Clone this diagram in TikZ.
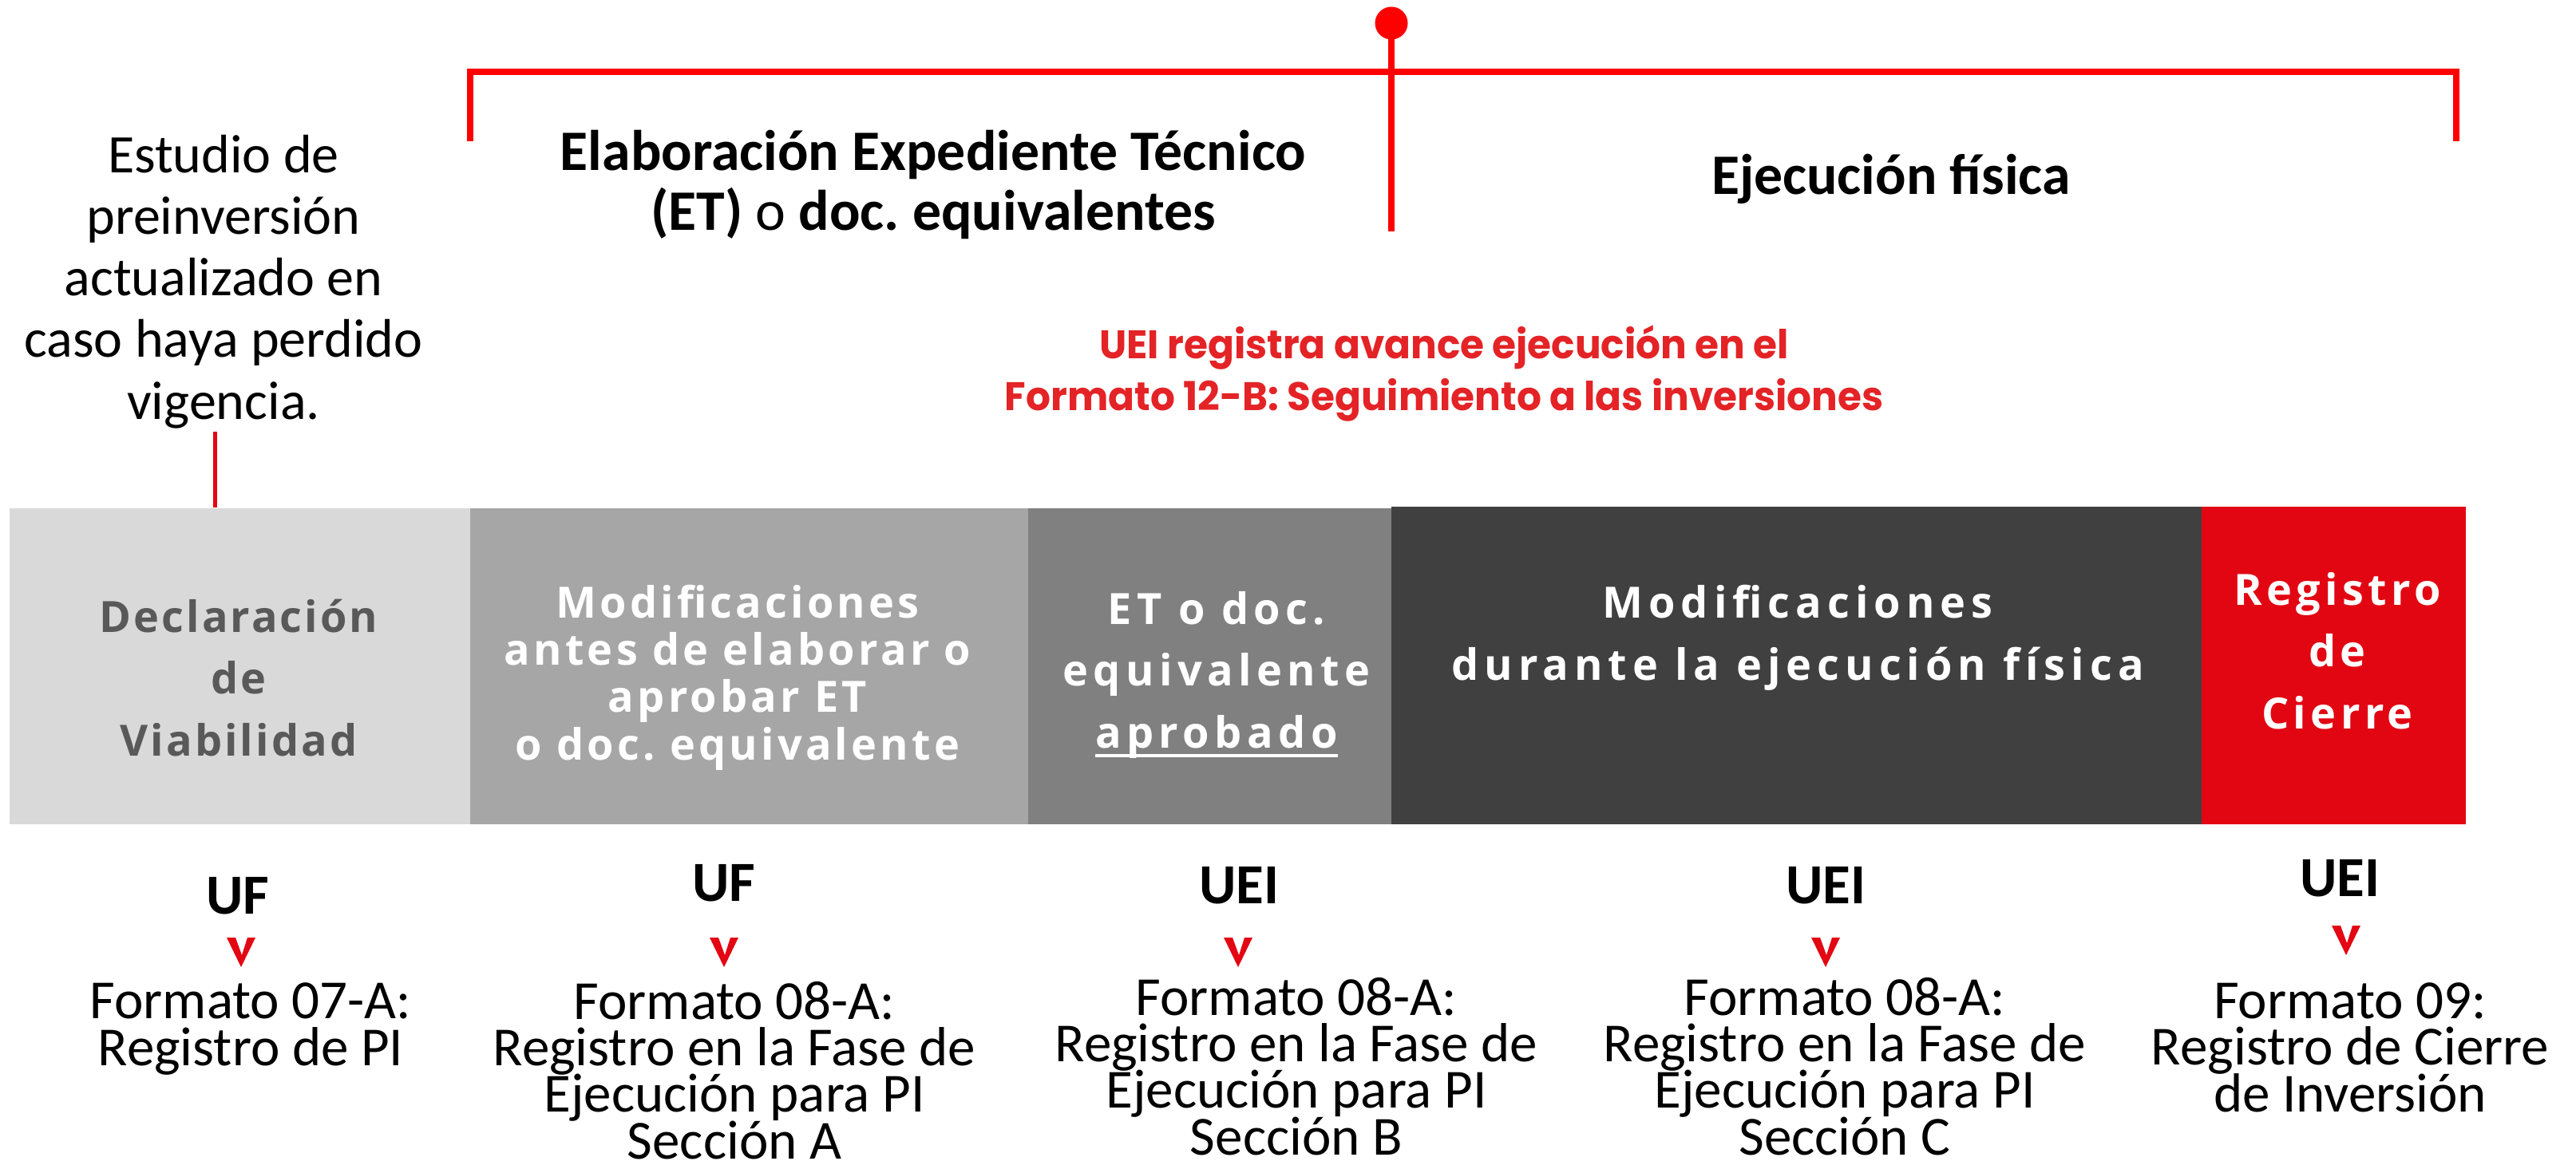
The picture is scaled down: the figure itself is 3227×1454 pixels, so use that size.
\documentclass[tikz,border=0pt]{standalone}
\usepackage{fontspec}
\setmainfont{Carlito}
\newfontfamily\barA[LetterSpace=5.7]{Open Sans}
\newfontfamily\barB[LetterSpace=7.8]{Open Sans}
\newfontfamily\barC[LetterSpace=12]{Open Sans}
\newfontfamily\barD[LetterSpace=13]{Open Sans}
\newfontfamily\barE[LetterSpace=10]{Open Sans}
\newfontfamily\redfont[FakeStretch=0.97]{Poppins}
\definecolor{brightred}{HTML}{FF0000}
\definecolor{markred}{HTML}{E30613}
\definecolor{textred}{HTML}{E42326}
\definecolor{cseg1}{HTML}{D9D9D9}
\definecolor{cseg2}{HTML}{A6A6A6}
\definecolor{cseg3}{HTML}{808080}
\definecolor{cseg4}{HTML}{404040}
\definecolor{cseg5}{HTML}{E20613}
\definecolor{darktxt}{HTML}{595959}
\frenchspacing
\newdimen\pxd \pxd=0.28453pt
\newcommand\pxfont[2]{\fontsize{\the\dimexpr#1\pxd\relax}{\the\dimexpr#2\pxd\relax}\selectfont\lineskiplimit=-100pt\relax}
\newcommand\ulwhite[1]{\setbox0\hbox{#1}\rlap{\rule[-3.27pt]{\wd0}{0.9pt}}\box0}
\tikzset{
  txt/.style={inner sep=0pt, anchor=base, align=center},
  segbox/.style={anchor=north west, inner sep=0pt, draw=none},
  bracket/.style={draw=brightred, line width=0.08cm},
  stemline/.style={draw=brightred, line width=0.077cm},
  thinred/.style={draw=markred, line width=0.05cm},
  bartxt/.style={txt, text=white},
  who/.style={txt, font=\bfseries\pxfont{71}{74}},
  fmt/.style={txt, font=\pxfont{69}{58}},
  vmark/.pic={\fill[markred] (-18,0) -- (-7,0) -- (1,22) -- (8,0) -- (18,0) -- (0,37) -- cycle;}
}
\begin{document}
\begin{tikzpicture}[x=0.01cm, y=-0.01cm]
\useasboundingbox[fill=white] (0,0) rectangle (3227,1454);

% top bracket
\coordinate (bl) at (589,177);
\coordinate (bktl) at (589,90);
\coordinate (bktr) at (3077,90);
\coordinate (br) at (3077,177);
\draw[bracket] (bl) -- (bktl) -- (bktr) -- (br);
\node[circle, fill=brightred, minimum size=0.41cm, inner sep=0pt] (dot) at (1743,29) {};
\coordinate (stemend) at (1743,290);
\draw[stemline] (dot.center) -- (stemend);

% headings
\node[txt, font=\pxfont{68}{77}] (estudio) at (280,525) {Estudio de\\preinversión\\actualizado en\\caso haya perdido\\vigencia.};
\node[txt, font=\pxfont{71.7}{74}] (elab) at (1169,288) {\textbf{Elaboración Expediente Técnico}\\\textbf{(ET)} o \textbf{doc. equivalentes}};
\node[txt, font=\bfseries\pxfont{71.7}{74}] (ejec) at (2369,243) {Ejecución física};
\node[txt, font=\redfont\bfseries\pxfont{50}{64}, text=textred] (uei) at (1809,514) {UEI registra avance ejecución en el\\Formato 12-B: Seguimiento a las inversiones};

% bar
\node[segbox, fill=cseg1, minimum width=5.77cm, minimum height=3.96cm] (s1) at (11,636) {};
\node[segbox, fill=cseg2, minimum width=6.99cm, minimum height=3.96cm] (s2) at (588,636) {};
\node[segbox, fill=cseg3, minimum width=4.55cm, minimum height=3.96cm] (s3) at (1287,636) {};
\node[segbox, fill=cseg4, minimum width=10.15cm, minimum height=3.98cm] (s4) at (1742,634) {};
\node[segbox, fill=cseg5, minimum width=3.31cm, minimum height=3.98cm] (s5) at (2757,634) {};

\coordinate (estl) at (269,541);
\draw[thinred] (estl) -- (estl |- s1.north);

\node[bartxt, text=darktxt, font=\barA\bfseries\pxfont{54}{77}] (t1) at (299,947) {Declaración\\de\\Viabilidad};
\node[bartxt, font=\barB\bfseries\pxfont{54}{59}] (t2) at (924,952) {Modificaciones\\antes de elaborar o\\aprobar ET\\o doc. equivalente};
\node[bartxt, font=\barC\bfseries\pxfont{54}{77}] (t3) at (1524,937) {ET o doc.\\equivalente\\\ulwhite{aprobado}};
\node[bartxt, font=\barD\bfseries\pxfont{54}{77}] (t4) at (2252,852) {Modificaciones\\durante la ejecución física};
\node[bartxt, font=\barE\bfseries\pxfont{54}{77}] (t5) at (2928,913) {Registro\\de\\Cierre};

% responsible units
\node[who] (w1) at (298,1145) {UF};
\node[who] (w2) at (907,1129) {UF};
\node[who] (w3) at (1552,1132) {UEI};
\node[who] (w4) at (2287,1132) {UEI};
\node[who] (w5) at (2931,1123) {UEI};

\pic (v1) at (302,1175) {vmark};
\pic (v2) at (907,1175) {vmark};
\pic (v3) at (1551,1175) {vmark};
\pic (v4) at (2287,1175) {vmark};
\pic (v5) at (2939,1160) {vmark};

\node[fmt] (f1) at (314,1335) {Formato 07-A:\\Registro de PI};
\node[fmt] (f2) at (920,1452) {Formato 08-A:\\Registro en la Fase de\\Ejecución para PI\\Sección A};
\node[fmt] (f3) at (1624,1447) {Formato 08-A:\\Registro en la Fase de\\Ejecución para PI\\Sección B};
\node[fmt] (f4) at (2311,1447) {Formato 08-A:\\Registro en la Fase de\\Ejecución para PI\\Sección C};
\node[fmt] (f5) at (2944,1393) {Formato 09:\\Registro de Cierre\\de Inversión};
\end{tikzpicture}
\end{document}
